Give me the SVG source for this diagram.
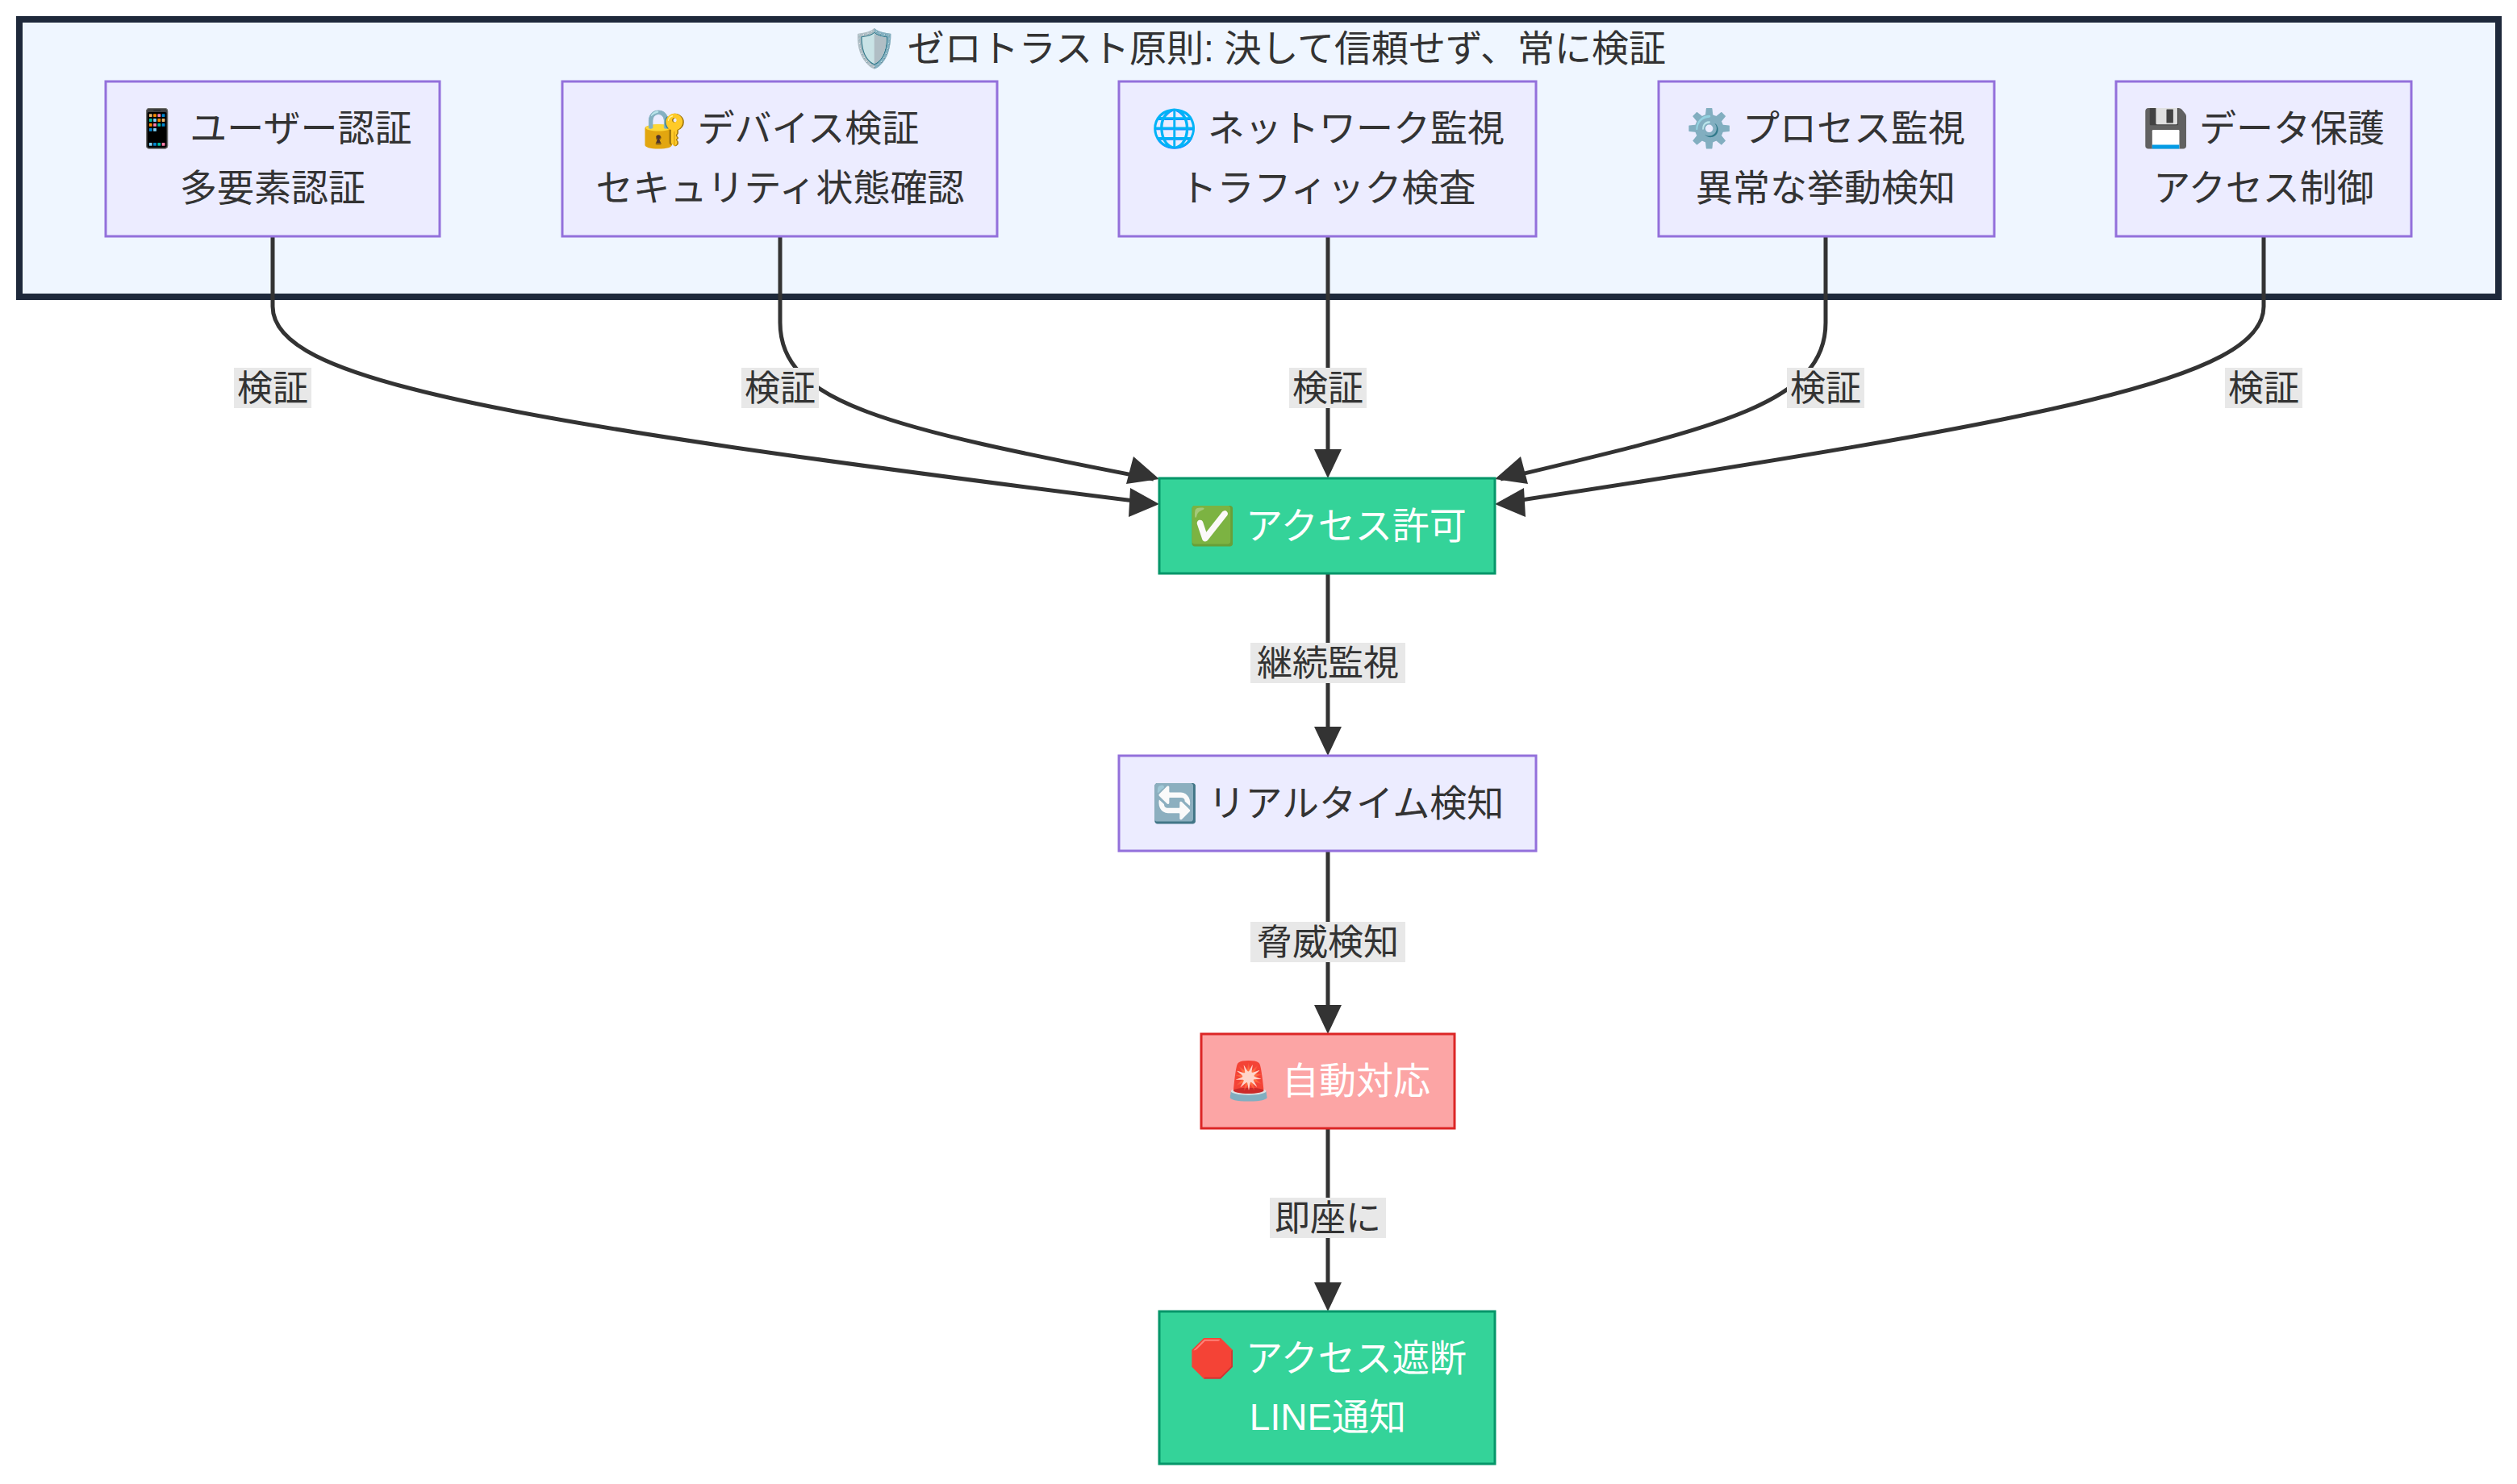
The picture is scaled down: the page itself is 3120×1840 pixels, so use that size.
<svg xmlns="http://www.w3.org/2000/svg" width="3120" height="1840" viewBox="0 0 3120 1840">
<defs>
<style>
text{font-family:"Liberation Sans","Noto Sans CJK JP",sans-serif;font-size:46px;text-anchor:middle;dominant-baseline:central;fill:#333}
.n{fill:#ECECFF;stroke:#9370DB;stroke-width:3}
.g{fill:#34d399;stroke:#059669;stroke-width:3}
.r{fill:#fca5a5;stroke:#dc2626;stroke-width:3}
.w{fill:#fff}
.e{fill:none;stroke:#333;stroke-width:5;marker-end:url(#a)}
.lb{fill:#e8e8e8}
.lt{font-size:44px}
</style>
<marker id="a" viewBox="0 0 10 10" refX="9" refY="5" markerWidth="7" markerHeight="7" markerUnits="userSpaceOnUse" orient="auto"><path d="M0,0L10,5L0,10z" fill="#333"/></marker>
</defs>
<rect width="3120" height="1840" fill="#fff"/>
<g id="cluster">
<rect x="24" y="24" width="3073" height="344" fill="#eff6ff" stroke="#1e293b" stroke-width="8"/>
<text x="1560" y="60">🛡️ ゼロトラスト原則: 決して信頼せず、常に検証</text>
</g>
<g id="connectors">
<path class="e" style="marker-end:none" d="M338,293V380C338,470 600,520 1430,624"/>
<path class="e" style="marker-end:none" d="M967,293V400C967,500 1100,530 1430,594"/>
<path class="e" style="marker-end:none" d="M2263,293V400C2263,500 2130,530 1860,594"/>
<path class="e" style="marker-end:none" d="M2806,293V380C2806,470 2540,520 1860,624"/>
<path d="M1437,625l-36,-20l-2,36z M1437,594l-32,-28l-9,34z M1853,594l32,-28l9,34z M1853,625l36,-20l2,36z" fill="#333"/>
<path class="e" style="marker-end:none" d="M1646,293V560"/>
<path d="M1646,593l-17,-36h34z" fill="#333"/>
<path class="e" style="marker-end:none" d="M1646,711V905"/>
<path d="M1646,937l-17,-36h34z" fill="#333"/>
<path class="e" style="marker-end:none" d="M1646,1055V1250"/>
<path d="M1646,1282l-17,-36h34z" fill="#333"/>
<path class="e" style="marker-end:none" d="M1646,1399V1594"/>
<path d="M1646,1626l-17,-36h34z" fill="#333"/>
<rect class="lb" x="290" y="456" width="96" height="50"/><text class="lt" x="338" y="481">検証</text>
<rect class="lb" x="919" y="456" width="96" height="50"/><text class="lt" x="967" y="481">検証</text>
<rect class="lb" x="1598" y="456" width="96" height="50"/><text class="lt" x="1646" y="481">検証</text>
<rect class="lb" x="2215" y="456" width="96" height="50"/><text class="lt" x="2263" y="481">検証</text>
<rect class="lb" x="2758" y="456" width="96" height="50"/><text class="lt" x="2806" y="481">検証</text>
<rect class="lb" x="1550" y="797" width="192" height="50"/><text class="lt" x="1646" y="822">継続監視</text>
<rect class="lb" x="1550" y="1143" width="192" height="50"/><text class="lt" x="1646" y="1168">脅威検知</text>
<rect class="lb" x="1574" y="1485" width="144" height="50"/><text class="lt" x="1646" y="1510">即座に</text>
</g>
<g id="n1"><rect class="n" x="131" y="101" width="414" height="192"/><text x="338" y="159">📱 ユーザー認証</text><text x="338" y="233">多要素認証</text></g>
<g id="n2"><rect class="n" x="697" y="101" width="539" height="192"/><text x="967" y="159">🔐 デバイス検証</text><text x="967" y="233">セキュリティ状態確認</text></g>
<g id="n3"><rect class="n" x="1387" y="101" width="517" height="192"/><text x="1646" y="159">🌐 ネットワーク監視</text><text x="1646" y="233">トラフィック検査</text></g>
<g id="n4"><rect class="n" x="2056" y="101" width="416" height="192"/><text x="2263" y="159">⚙️ プロセス監視</text><text x="2263" y="233">異常な挙動検知</text></g>
<g id="n5"><rect class="n" x="2623" y="101" width="366" height="192"/><text x="2806" y="159">💾 データ保護</text><text x="2806" y="233">アクセス制御</text></g>
<g id="allow"><rect class="g" x="1437" y="593" width="416" height="118"/><text class="w" x="1646" y="652">✅ アクセス許可</text></g>
<g id="realtime"><rect class="n" x="1387" y="937" width="517" height="118"/><text x="1646" y="996">🔄 リアルタイム検知</text></g>
<g id="auto"><rect class="r" x="1489" y="1282" width="314" height="117"/><text class="w" x="1646" y="1340">🚨 自動対応</text></g>
<g id="block"><rect class="g" x="1437" y="1626" width="416" height="189"/><text class="w" x="1646" y="1684">🛑 アクセス遮断</text><text class="w" x="1646" y="1757">LINE通知</text></g>
</svg>
